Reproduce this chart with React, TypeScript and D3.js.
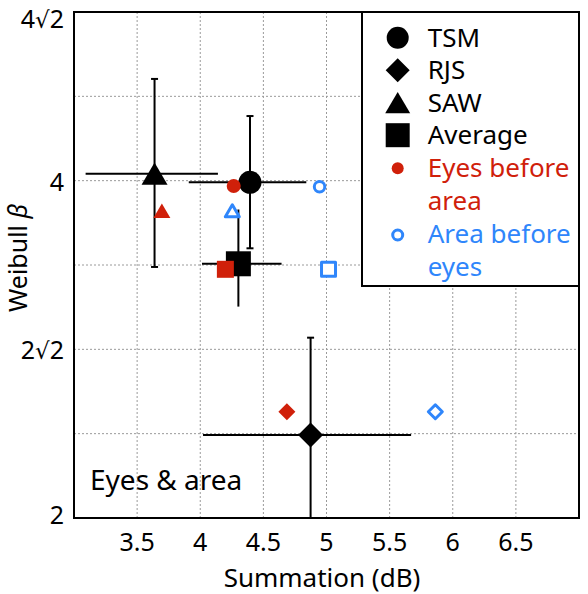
import React from "react";
import * as d3 from "d3";

// ---- data ----
const subjects = ["TSM", "RJS", "SAW", "Average"];
const shapes = ["circle", "diamond", "triangle", "square"];
const meanX = [4.394, 4.874, 3.638, 4.302];
const meanXLo = [3.909, 4.022, 3.092, 4.014];
const meanXHi = [4.84, 5.67, 4.14, 4.644];
const meanY = [3.986, 2.372, 4.058, 3.372];
const meanYLo = [3.481, 1.9, 3.35, 3.088];
const meanYHi = [4.568, 2.897, 4.93, 3.77];
const hasCaps = [true, true, true, false];

const eyesFirstX = [4.265, 4.686, 3.696, 4.199];
const eyesFirstY = [3.957, 2.488, 3.76, 3.334];
const areaFirstX = [4.945, 5.862, 4.254, 5.016];
const areaFirstY = [3.95, 2.488, 3.76, 3.334];

const xTicks = [3.5, 4, 4.5, 5, 5.5, 6, 6.5];
const yTickValues = [2, 2 * Math.SQRT2, 4, 4 * Math.SQRT2];
const yTickLabels = ["2", "2√2", "4", "4√2"];
const yGridExponents = [1.25, 1.5, 1.75, 2, 2.25];

const legendLabels = ["TSM", "RJS", "SAW", "Average"];
const legendColorLabels = [["Eyes before", "area"], ["Area before", "eyes"]];

const RED = "#d0200a";
const BLUE = "#2f86fb";
const FONT = "'Noto Sans', 'DejaVu Sans', sans-serif";

// ---- layout ----
const W = 588, H = 594;
const L = 74, R = 579, T = 12, B = 518;

const x = d3.scaleLinear().domain([3, 7]).range([L, R]);
const y = d3.scaleLog().base(2).domain([2, 4 * Math.SQRT2]).range([B, T]);

function shapePath(shape: string, s: number): string {
  const h = s / 2;
  if (shape === "circle") {
    const p = d3.path();
    p.arc(0, 0, h, 0, 2 * Math.PI);
    p.closePath();
    return p.toString();
  }
  if (shape === "square") {
    return `M${-h},${-h}L${h},${-h}L${h},${h}L${-h},${h}Z`;
  }
  if (shape === "diamond") {
    return `M0,${-h}L${h},0L0,${h}L${-h},0Z`;
  }
  const th = s * 0.85;
  return `M0,${-th / 2}L${h},${th / 2}L${-h},${th / 2}Z`;
}

function Marker({ shape, cx, cy, size, fill, stroke, sw }: any) {
  return (
    <path
      d={shapePath(shape, size)}
      transform={`translate(${cx},${cy})`}
      fill={fill}
      stroke={stroke}
      strokeWidth={sw}
      strokeLinejoin="round"
    />
  );
}

const bigSize: Record<string, number> = { circle: 23, diamond: 25, triangle: 26, square: 25 };
const smallSize: Record<string, number> = { circle: 14, diamond: 17, triangle: 17, square: 17 };
const openSize: Record<string, number> = { circle: 10.5, diamond: 14, triangle: 14, square: 14 };

function YLabel({ label, yy }: { label: string; yy: number }) {
  const parts = label.split("√");
  const base = Math.min(524, Math.max(27.5, yy + 10));
  return (
    <text x={64} y={base} textAnchor="end" fontSize={25} fontFamily={FONT} fill="#000">
      {parts[0]}
      {parts.length > 1 && (
        <>
          <tspan fontFamily="'DejaVu Sans', sans-serif" fontSize={23}>√</tspan>
          <tspan>{parts[1]}</tspan>
        </>
      )}
    </text>
  );
}

export default function App() {
  const capW = 7;
  return (
    <svg
      width={W}
      height={H}
      style={{ position: "absolute", left: 0, top: 0, background: "#fff" }}
    >
      <defs>
        <clipPath id="plotClip">
          <rect x={L} y={T} width={R - L} height={B - T} />
        </clipPath>
      </defs>
      <rect x={0} y={0} width={W} height={H} fill="#fff" />

      {/* grid */}
      <g stroke="#9a9a9a" strokeWidth={1} strokeDasharray="2,2">
        {xTicks.map((t) => (
          <line key={"gx" + t} x1={x(t)} x2={x(t)} y1={T} y2={B} />
        ))}
        {yGridExponents.map((e) => (
          <line key={"gy" + e} x1={L} x2={R} y1={y(Math.pow(2, e))} y2={y(Math.pow(2, e))} />
        ))}
      </g>

      {/* error bars */}
      <g clipPath="url(#plotClip)" stroke="#000" strokeWidth={2}>
        {subjects.map((s, i) => (
          <g key={"eb" + s}>
            <line x1={x(meanXLo[i])} x2={x(meanXHi[i])} y1={y(meanY[i])} y2={y(meanY[i])} />
            <line x1={x(meanX[i])} x2={x(meanX[i])} y1={y(meanYLo[i])} y2={y(meanYHi[i])} />
            {hasCaps[i] && (
              <>
                <line x1={x(meanX[i]) - capW / 2} x2={x(meanX[i]) + capW / 2} y1={y(meanYLo[i])} y2={y(meanYLo[i])} />
                <line x1={x(meanX[i]) - capW / 2} x2={x(meanX[i]) + capW / 2} y1={y(meanYHi[i])} y2={y(meanYHi[i])} />
              </>
            )}
          </g>
        ))}
      </g>

      {/* black mean markers */}
      {subjects.map((s, i) => (
        <Marker key={"m" + s} shape={shapes[i]} cx={x(meanX[i])} cy={y(meanY[i])} size={bigSize[shapes[i]]} fill="#000" stroke="none" sw={0} />
      ))}

      {/* eyes before area (red filled) */}
      {subjects.map((s, i) => (
        <Marker key={"r" + s} shape={shapes[i]} cx={x(eyesFirstX[i])} cy={y(eyesFirstY[i])} size={smallSize[shapes[i]]} fill={RED} stroke="none" sw={0} />
      ))}

      {/* area before eyes (blue open) */}
      {subjects.map((s, i) => (
        <Marker key={"b" + s} shape={shapes[i]} cx={x(areaFirstX[i])} cy={y(areaFirstY[i])} size={openSize[shapes[i]]} fill="#fff" stroke={BLUE} sw={3} />
      ))}

      {/* frame */}
      <rect x={L} y={T} width={R - L} height={B - T} fill="none" stroke="#000" strokeWidth={2} />

      {/* x tick labels */}
      {xTicks.map((t) => (
        <text key={"xt" + t} x={x(t)} y={551} textAnchor="middle" fontSize={25} fontFamily={FONT} fill="#000">
          {String(t)}
        </text>
      ))}
      {/* y tick labels */}
      {yTickValues.map((v, i) => (
        <YLabel key={"yt" + i} label={yTickLabels[i]} yy={y(v)} />
      ))}

      {/* axis titles */}
      <text x={322} y={587} textAnchor="middle" fontSize={26} fontFamily={FONT} fill="#000">
        Summation (dB)
      </text>
      <text transform="translate(27,258) rotate(-90)" textAnchor="middle" fontSize={25} fontFamily={FONT} fill="#000">
        Weibull <tspan fontStyle="italic">β</tspan>
      </text>

      {/* annotation */}
      <text x={90} y={490} fontSize={28} fontFamily={FONT} fill="#000">
        Eyes &amp; area
      </text>

      {/* legend */}
      <g>
        <rect x={362} y={T} width={R - 362} height={286 - T} fill="#fff" stroke="#000" strokeWidth={2} />
        {legendLabels.map((lab, i) => (
          <g key={"lg" + lab}>
            <Marker shape={shapes[i]} cx={397.7} cy={37.7 + i * 32.5} size={bigSize[shapes[i]] - 1} fill="#000" stroke="none" sw={0} />
            <text x={427.7} y={46.5 + i * 32.5} fontSize={26} fontFamily={FONT} fill="#000">
              {lab}
            </text>
          </g>
        ))}
        <Marker shape="circle" cx={397.7} cy={168.3} size={12} fill={RED} stroke="none" sw={0} />
        {legendColorLabels[0].map((t, j) => (
          <text key={"lr" + j} x={427.7} y={176.5 + j * 33} fontSize={26} fontFamily={FONT} fill={RED}>
            {t}
          </text>
        ))}
        <Marker shape="circle" cx={397.7} cy={235} size={10} fill="#fff" stroke={BLUE} sw={3} />
        {legendColorLabels[1].map((t, j) => (
          <text key={"lb" + j} x={427.7} y={242.5 + j * 33} fontSize={26} fontFamily={FONT} fill={BLUE}>
            {t}
          </text>
        ))}
      </g>
    </svg>
  );
}
